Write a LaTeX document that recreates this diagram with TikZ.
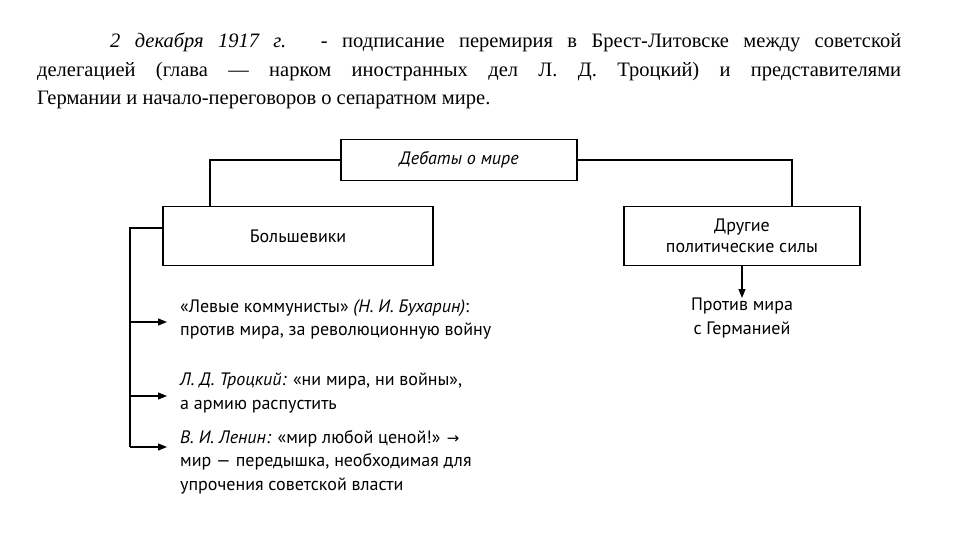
\documentclass[tikz,border=0pt]{standalone}
\usepackage{fontspec}
\setmainfont{Liberation Serif}
\newfontfamily\dfont{PT Sans}
\newfontfamily\symfont{DejaVu Sans}
\usetikzlibrary{arrows.meta}
\begin{document}
\begin{tikzpicture}[x=1pt,y=-1pt,
  box/.style={draw,line width=1.1pt,inner sep=0pt,font=\dfont\fontsize{18}{21}\selectfont,align=center},
  txt/.style={anchor=north west,inner sep=0pt,font=\dfont\fontsize{18}{23.5}\selectfont,align=left},
  hl/.style={anchor=base west,inner sep=0pt,font=\fontsize{20.5}{24}\selectfont},
  ln/.style={line width=1.1pt},
  arr/.style={line width=1.1pt,-{Triangle[length=9pt,width=7pt]}}]
\useasboundingbox (0,0) rectangle (960,540);
\node[hl] (h1) at (110,48) {\hbox to 791pt{\textit{2 декабря 1917 г.} - подписание перемирия в Брест-Литовске между советской}};
\node[hl] (h2) at (37,77) {\hbox to 864pt{делегацией (глава — нарком иностранных дел Л. Д. Троцкий) и представителями}};
\node[hl] (h3) at (37,105) {Германии и начало-переговоров о сепаратном мире.};
\node[box,minimum width=236pt,minimum height=41pt] (top) at (459,160) {\itshape Дебаты о мире};
\node[box,minimum width=270pt,minimum height=59pt] (bol) at (298,236) {Большевики};
\node[box,minimum width=236pt,minimum height=59pt] (oth) at (742,236) {Другие\\политические силы};
\coordinate (tl) at (210,160);
\coordinate (tr) at (792,160);
\draw[ln] (top.west) -- (tl) -- (tl|-bol.north);
\draw[ln] (top.east) -- (tr) -- (tr|-oth.north);
\node[txt] (t1) at (180,299) {«Левые коммунисты» \textit{(Н. И. Бухарин)}:\\против мира, за революционную войну};
\node[txt] (t2) at (180,373) {\textit{Л. Д. Троцкий:} «ни мира, ни войны»,\\а армию распустить};
\node[txt] (t3) at (180,430) {\textit{В. И. Ленин:} «мир любой ценой!» {\symfont\fontsize{15}{15}\selectfont →}\\мир — передышка, необходимая для\\упрочения советской власти};
\node[txt,anchor=north,align=center] (t4) at (742,298) {Против мира\\с Германией};
\coordinate (vl) at (130,228);
\coordinate (a1) at (130,322);
\coordinate (a2) at (130,396);
\coordinate (a3) at (130,447);
\draw[ln] (bol.west|-vl) -- (vl) -- (a3);
\draw[arr] (a1) -- (167,322);
\draw[arr] (a2) -- (167,396);
\draw[arr] (a3) -- (167,447);
\draw[arr] (oth.south) -- (t4.north);
\end{tikzpicture}
\end{document}
